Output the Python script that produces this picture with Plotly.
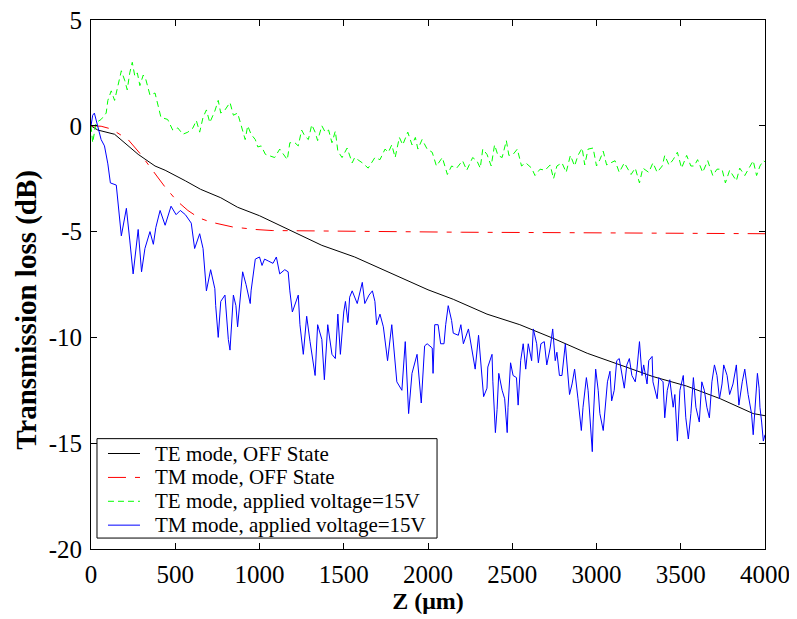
from __future__ import annotations

import plotly.graph_objects as go

# values
te_off_z = [0, 40, 140, 280, 380, 440, 560, 650, 770, 870, 1000, 1170, 1370, 1565, 1765, 2000,
            2150, 2350, 2545, 2745, 2945, 3140, 3335, 3535, 3735, 3930, 4000]
te_off_loss = [0.0, -0.2, -0.4, -1.35, -1.9, -2.1, -2.6, -3.0, -3.4, -3.85, -4.25, -4.9, -5.65,
               -6.2, -6.9, -7.75, -8.2, -8.9, -9.4, -10.05, -10.75, -11.3, -11.85, -12.3, -12.9,
               -13.6, -13.7]

tm_off_z = [0, 60, 120, 220, 290, 355, 440, 510, 575, 640, 710, 840, 975, 1075, 1300, 1730,
            2200, 2800, 3400, 4000]
tm_off_loss = [0.0, -0.02, -0.15, -0.65, -1.3, -2.0, -2.9, -3.55, -4.0, -4.35, -4.55, -4.78,
               -4.9, -4.95, -4.97, -5.0, -5.03, -5.05, -5.08, -5.1]

te_on_z = [0, 10, 30, 60, 90, 100, 120, 140, 160, 180, 200, 215, 230, 245, 260, 275, 290, 310,
           325, 350, 380, 400, 415, 455, 485, 515, 545, 575, 605, 625, 645, 665, 685, 705, 735,
           755, 770, 795, 825, 845, 870, 890, 915, 930, 950, 975, 990, 1010, 1035, 1090, 1120,
           1165, 1180, 1210, 1230, 1250, 1270, 1290, 1310, 1330, 1345, 1370, 1390, 1410, 1430,
           1450, 1465, 1490, 1520, 1550, 1565, 1610, 1645, 1685, 1715, 1745, 1765, 1785, 1805,
           1830, 1850, 1880, 1905, 1925, 1940, 1965, 1995, 2025, 2050, 2085, 2115, 2140, 2170,
           2205, 2230, 2265, 2290, 2310, 2325, 2350, 2375, 2395, 2415, 2440, 2465, 2480, 2505,
           2530, 2555, 2580, 2615, 2635, 2665, 2695, 2725, 2745, 2765, 2795, 2820, 2845, 2870,
           2890, 2915, 2930, 2950, 2980, 3000, 3020, 3040, 3060, 3085, 3110, 3135, 3165, 3205,
           3230, 3255, 3275, 3310, 3335, 3360, 3390, 3405, 3430, 3455, 3480, 3505, 3535, 3560,
           3580, 3600, 3630, 3660, 3690, 3715, 3745, 3765, 3790, 3830, 3850, 3880, 3910, 3930,
           3950, 3970, 3990, 4000]
te_on_loss = [0.0, -0.8, 0.15, 0.3, 0.6, 1.2, 1.65, 1.2, 1.9, 2.6, 2.15, 1.7, 2.5, 3.0, 2.35,
              2.5, 1.9, 2.4, 2.2, 1.45, 1.55, 0.95, 0.4, 0.3, -0.2, -0.1, -0.4, -0.3, -0.1, 0.25,
              -0.3, 0.4, 0.75, 0.15, 0.7, 1.2, 0.6, 0.75, 1.1, 0.5, 0.6, 0.05, -0.65, 0.0, -0.4,
              -0.65, -1.0, -0.95, -1.35, -1.5, -1.1, -1.6, -0.8, -0.8, -0.95, -0.2, -0.5, -0.65,
              0.05, -0.3, -0.7, 0.0, -0.3, -0.2, -0.8, -0.25, -1.2, -1.5, -1.05, -1.75, -1.5,
              -1.75, -2.0, -1.5, -1.6, -1.1, -1.25, -0.9, -1.5, -0.55, -0.9, -0.3, -0.9, -0.55,
              -1.1, -0.65, -1.1, -1.25, -1.9, -1.5, -2.3, -1.9, -2.0, -1.65, -2.1, -1.5, -1.65,
              -2.0, -1.1, -1.35, -1.9, -0.9, -1.4, -1.5, -0.7, -1.4, -1.35, -1.1, -1.9, -1.75,
              -2.0, -2.35, -2.05, -2.1, -1.85, -2.5, -1.9, -1.75, -2.2, -1.4, -1.9, -1.4, -1.05,
              -1.85, -1.1, -1.05, -1.9, -1.6, -1.2, -1.85, -1.75, -1.65, -2.2, -1.75, -2.3, -2.0,
              -2.7, -2.0, -2.2, -1.75, -2.2, -1.9, -1.4, -1.85, -1.6, -1.25, -2.0, -1.4, -1.9,
              -1.9, -1.6, -2.2, -1.65, -2.35, -2.05, -2.05, -2.7, -2.1, -2.6, -2.0, -2.35, -1.9,
              -1.65, -2.35, -1.9, -1.65, -1.7]

tm_on_z = [0, 10, 20, 40, 60, 80, 100, 115, 150, 180, 210, 230, 250, 280, 300, 320, 350, 370,
           385, 410, 440, 475, 505, 530, 560, 595, 615, 645, 665, 685, 710, 735, 740, 755, 770,
           795, 815, 825, 845, 860, 870, 900, 920, 945, 950, 975, 1000, 1015, 1030, 1055, 1080,
           1100, 1120, 1150, 1170, 1180, 1195, 1230, 1240, 1260, 1280, 1300, 1330, 1345, 1370,
           1385, 1405, 1430, 1450, 1465, 1480, 1500, 1510, 1525, 1535, 1550, 1580, 1610, 1625,
           1650, 1670, 1685, 1695, 1715, 1735, 1760, 1785, 1815, 1845, 1865, 1885, 1905, 1935,
           1960, 1980, 1995, 2025, 2030, 2040, 2060, 2075, 2095, 2105, 2120, 2140, 2150, 2180,
           2195, 2210, 2240, 2260, 2280, 2300, 2320, 2330, 2350, 2355, 2380, 2385, 2400, 2410,
           2420, 2440, 2455, 2470, 2475, 2490, 2505, 2525, 2535, 2550, 2565, 2580, 2595, 2615,
           2625, 2645, 2655, 2670, 2690, 2705, 2725, 2740, 2755, 2765, 2780, 2795, 2815, 2825,
           2840, 2855, 2870, 2890, 2910, 2920, 2940, 2950, 2960, 2975, 2980, 2995, 3010, 3020,
           3040, 3050, 3065, 3080, 3090, 3105, 3120, 3135, 3150, 3165, 3180, 3195, 3210, 3230,
           3240, 3255, 3270, 3280, 3300, 3310, 3330, 3335, 3360, 3370, 3395, 3405, 3420, 3435,
           3455, 3465, 3480, 3495, 3515, 3530, 3545, 3560, 3575, 3590, 3610, 3625, 3640, 3655,
           3670, 3685, 3700, 3715, 3730, 3745, 3755, 3775, 3790, 3810, 3830, 3845, 3865, 3880,
           3900, 3920, 3930, 3945, 3955, 3965, 3970, 3980, 3990, 4000]
tm_on_loss = [0.0, 0.5, 0.6, -0.1, -0.65, -0.95, -1.8, -2.7, -2.8, -5.2, -3.9, -5.4, -7.0,
              -4.9, -6.9, -5.8, -5.0, -5.6, -4.8, -4.0, -4.7, -3.8, -4.2, -4.0, -4.2, -4.6, -5.8,
              -5.1, -5.8, -7.8, -6.8, -7.7, -8.5, -10.0, -8.3, -8.0, -10.1, -10.6, -8.0, -8.5,
              -9.5, -6.9, -7.5, -8.4, -7.8, -6.3, -6.2, -6.6, -6.3, -6.4, -6.5, -6.2, -7.0, -6.8,
              -6.9, -7.8, -8.8, -8.0, -9.4, -10.8, -9.0, -10.2, -11.8, -9.4, -10.1, -12.0, -9.4,
              -10.8, -11.0, -8.9, -10.8, -8.8, -8.3, -9.3, -8.1, -7.8, -8.4, -7.4, -8.4, -8.0,
              -7.8, -8.3, -9.4, -8.9, -9.5, -11.1, -9.4, -12.1, -12.5, -10.2, -13.6, -11.7,
              -10.8, -13.1, -10.4, -10.3, -10.5, -11.7, -9.4, -9.4, -10.3, -10.3, -9.4, -8.5,
              -9.2, -9.8, -9.9, -9.4, -10.3, -9.6, -10.5, -11.5, -9.9, -12.0, -12.8, -12.4,
              -11.4, -10.8, -12.1, -14.5, -13.4, -11.7, -12.5, -12.9, -14.5, -13.3, -11.2, -11.8,
              -11.9, -13.2, -11.1, -10.3, -11.5, -10.3, -11.1, -9.6, -10.3, -11.2, -10.3, -10.2,
              -11.3, -10.5, -9.6, -11.1, -10.7, -11.8, -11.8, -10.3, -11.4, -12.7, -12.2, -11.5,
              -12.9, -14.4, -13.3, -11.9, -12.5, -13.6, -15.4, -14.0, -11.5, -12.5, -13.6, -14.4,
              -13.3, -12.1, -11.6, -13.0, -12.5, -11.1, -11.0, -11.8, -12.4, -11.3, -11.0, -11.8,
              -12.1, -11.5, -10.2, -11.8, -11.3, -12.2, -11.1, -10.9, -12.1, -12.9, -11.9, -12.1,
              -13.8, -12.5, -12.0, -13.3, -12.7, -14.9, -12.5, -11.8, -13.8, -14.8, -13.6, -11.9,
              -13.3, -14.0, -12.1, -12.5, -13.3, -13.8, -12.1, -11.3, -11.8, -12.9, -12.2, -11.3,
              -11.8, -12.7, -12.2, -11.3, -13.2, -12.1, -11.5, -12.7, -13.6, -14.6, -12.5, -11.7,
              -12.4, -13.3, -14.0, -14.9, -14.6]

series_names = ["TE mode, OFF State", "TM mode, OFF State",
                "TE mode, applied voltage=15V", "TM mode, applied voltage=15V"]

x_ticks = [0, 500, 1000, 1500, 2000, 2500, 3000, 3500, 4000]
x_tick_labels = ["0", "500", "1000", "1500", "2000", "2500", "3000", "3500", "4000"]
y_ticks = [5, 0, -5, -10, -15, -20]
y_tick_labels = ["5", "0", "-5", "-10", "-15", "-20"]

SERIF = "Liberation Serif, Times New Roman, serif"
LINE_STYLES = [
    {"color": "#000000", "width": 1},
    {"color": "#ff0000", "width": 1, "dash": "18px,9px,5px,9px"},
    {"color": "#00ff00", "width": 1, "dash": "6px,4px"},
    {"color": "#0000ff", "width": 1},
]


def add_boxed_legend(figure: go.Figure) -> None:
    # MATLAB-style legend box, tighter rows than plotly's own legend allows
    figure.add_shape(type="rect", xref="paper", yref="paper", x0=0.0089, x1=0.5134,
                     y0=0.0207, y1=0.2086, line={"color": "black", "width": 1},
                     fillcolor="white", layer="above")
    row_y = [0.1805, 0.1353, 0.0902, 0.0451]
    for name, style, y in zip(series_names, LINE_STYLES, row_y):
        figure.add_shape(type="line", xref="paper", yref="paper", x0=0.0252, x1=0.0727,
                         y0=y, y1=y, line=style, layer="above")
        figure.add_annotation(text=name, xref="paper", yref="paper", x=0.092, y=y,
                              xanchor="left", yanchor="middle", showarrow=False,
                              font={"family": SERIF, "size": 21, "color": "black"})


def transmission_figure() -> go.Figure:
    figure = go.Figure()
    for z, loss, name, style in zip(
        [te_off_z, tm_off_z, te_on_z, tm_on_z],
        [te_off_loss, tm_off_loss, te_on_loss, tm_on_loss],
        series_names,
        LINE_STYLES,
    ):
        figure.add_trace(go.Scatter(x=z, y=loss, mode="lines", name=name, line=style))
    axis_style = dict(
        showline=True, linecolor="black", linewidth=1, mirror="allticks", automargin=False,
        ticks="inside", ticklen=6, tickcolor="black", showgrid=False, zeroline=False,
        ticklabeloverflow="allow",
        tickfont={"family": SERIF, "size": 25, "color": "black"},
    )
    figure.update_xaxes(range=[0, 4000], tickvals=x_ticks, ticktext=x_tick_labels,
                        ticklabelstandoff=3, **axis_style,
                        title={"text": "<b>Z (\u03bcm)</b>", "standoff": 2,
                               "font": {"family": SERIF, "size": 24, "color": "black"}})
    figure.update_yaxes(range=[-20, 5], tickvals=y_ticks, ticktext=y_tick_labels,
                        ticklabelstandoff=3, **axis_style)
    figure.add_annotation(
        text="<b>Transmission loss (dB)</b>", textangle=-90, showarrow=False,
        xref="paper", yref="paper", x=-0.095, y=0.452, xanchor="center", yanchor="middle",
        font={"family": SERIF, "size": 29, "color": "black"},
    )
    add_boxed_legend(figure)
    # the page body adds an 8px offset, so margins are shifted to keep the axes in place
    figure.update_layout(
        width=797, height=619,
        margin={"l": 83, "r": 40, "t": 12, "b": 78},
        paper_bgcolor="white", plot_bgcolor="white",
        showlegend=False,
    )
    return figure


fig = transmission_figure()
fig.write_html("out.html")
